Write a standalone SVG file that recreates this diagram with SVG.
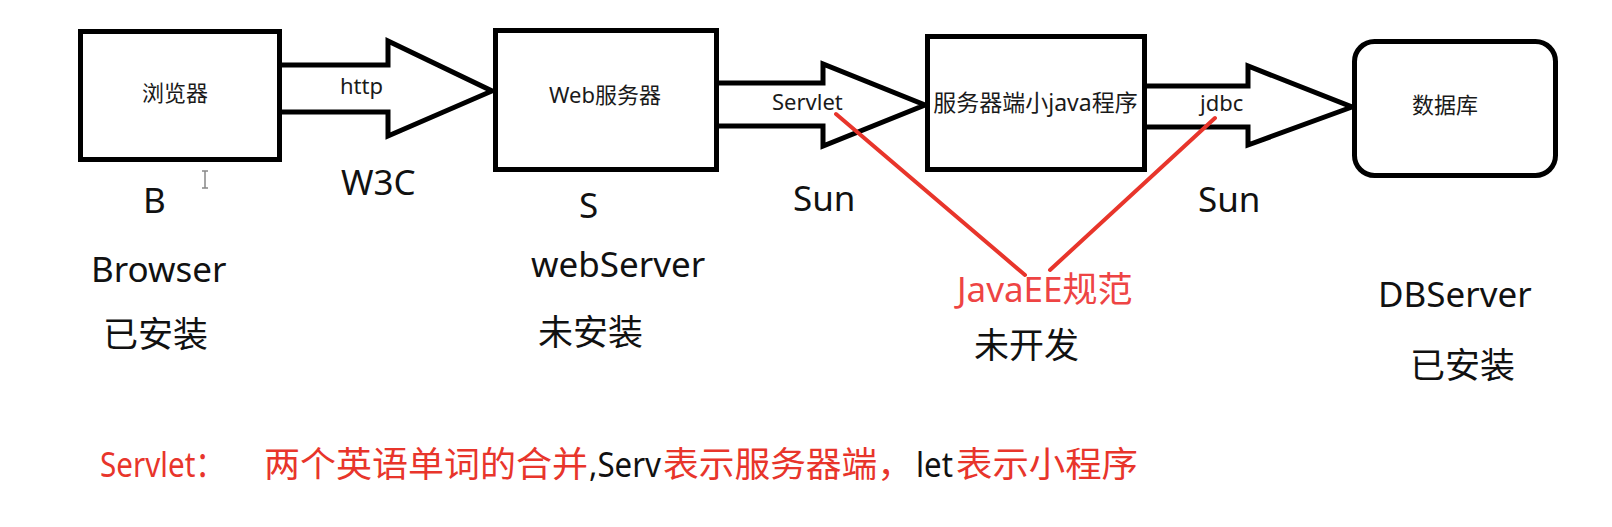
<svg xmlns="http://www.w3.org/2000/svg" width="1612" height="527" viewBox="0 0 1612 527">
<style>
.box{fill:#fff;stroke:#000;stroke-width:5}
.arrow{fill:#fff;stroke:#000;stroke-width:5;stroke-linejoin:miter}
.red{fill:none;stroke:#e8352b;stroke-width:4;stroke-linecap:round}
.in{font-family:"Noto Sans","Noto Sans CJK SC",sans-serif;font-size:22px;fill:#1a1a1a}
.lbl{font-family:"Noto Sans","Noto Sans CJK SC",sans-serif;font-size:35px;fill:#111}
.cjk{font-family:"Noto Sans CJK SC",sans-serif;font-size:35px;fill:#111}
.nt{font-family:"Noto Sans","Noto Sans CJK SC",sans-serif;font-size:35px}
.r{fill:#e8352b}
.k{fill:#111}
</style>
<rect width="1612" height="527" fill="#fff"/>
<g id="connectors">
  <path class="arrow" d="M280,65 H388 V41 L492,91 L388,136 V112 H280"/>
  <path class="arrow" d="M716,83 H823 V64 L925,105 L823,146 V126 H716"/>
  <path class="arrow" d="M1145,86 H1248 V66 L1352,107 L1248,145 V127 H1145"/>
  <line class="red" x1="836" y1="114" x2="1025" y2="275"/>
  <line class="red" x1="1215" y1="118" x2="1050" y2="270"/>
  <text class="in" x="340" y="94">http</text>
  <text class="in" x="772" y="110">Servlet</text>
  <text class="in" x="1200" y="111">jdbc</text>
  <text class="lbl" x="341" y="195">W3C</text>
  <text class="lbl" x="793" y="211">Sun</text>
  <text class="lbl" x="1198" y="212">Sun</text>
</g>
<g id="browser">
  <rect class="box" x="80.5" y="31.5" width="199" height="128"/>
  <text class="in" x="175" y="101" text-anchor="middle">浏览器</text>
  <text class="lbl" x="143" y="213">B</text>
  <text class="lbl" x="91" y="282">Browser</text>
  <text class="cjk" x="103" y="347">已安装</text>
</g>
<g id="webserver">
  <rect class="box" x="495.5" y="30.5" width="221" height="139"/>
  <text class="in" x="605" y="103" text-anchor="middle">Web服务器</text>
  <text class="lbl" x="579" y="218">S</text>
  <text class="lbl" x="531" y="277">webServer</text>
  <text class="cjk" x="538" y="345">未安装</text>
</g>
<g id="servlet">
  <rect class="box" x="927.5" y="36.5" width="217" height="133"/>
  <text class="in" x="1035.5" y="111" text-anchor="middle" style="font-size:23px">服务器端小java程序</text>
  <text class="lbl" x="957" y="302" style="fill:#ee4444">JavaEE规范</text>
  <text class="cjk" x="974" y="358">未开发</text>
</g>
<g id="database">
  <rect class="box" x="1354.5" y="41.5" width="201" height="134" rx="20" ry="20"/>
  <text class="in" x="1445" y="113" text-anchor="middle">数据库</text>
  <text class="lbl" x="1378" y="307">DBServer</text>
  <text class="cjk" x="1410" y="378">已安装</text>
</g>
<g id="cursor">
  <path d="M205,171 V188 M202,171 H208 M202,188 H208" stroke="#888" stroke-width="1.5" fill="none"/>
</g>
<g id="note">
  <text class="nt r" x="100" y="477" textLength="125" lengthAdjust="spacingAndGlyphs">Servlet：</text>
  <text class="nt r" x="264" y="477" textLength="324" lengthAdjust="spacingAndGlyphs">两个英语单词的合并</text>
  <text class="nt k" x="589" y="477" textLength="72" lengthAdjust="spacingAndGlyphs">,Serv</text>
  <text class="nt r" x="663" y="477" textLength="250" lengthAdjust="spacingAndGlyphs">表示服务器端，</text>
  <text class="nt k" x="916" y="477" textLength="37" lengthAdjust="spacingAndGlyphs">let</text>
  <text class="nt r" x="956" y="477" textLength="182" lengthAdjust="spacingAndGlyphs">表示小程序</text>
</g>
</svg>
